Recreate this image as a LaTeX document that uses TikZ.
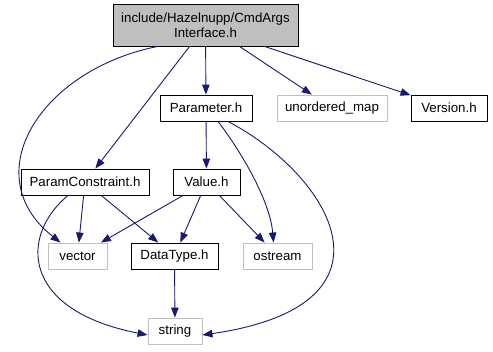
\documentclass[tikz,border=0pt]{standalone}
\usepackage{fontspec}
\setmainfont{Liberation Sans}
\usetikzlibrary{arrows.meta}

\definecolor{edgeblue}{HTML}{191970}
\definecolor{sysgray}{HTML}{BFBFBF}

\begin{document}
\begin{tikzpicture}[x=1pt,y=-1pt,
    hdr/.style={draw=black,line width=0.9pt,minimum height=26pt,inner sep=0pt,font=\fontsize{13.3}{15}\selectfont},
    syshdr/.style={hdr,draw=sysgray},
    dep/.style={draw=edgeblue,line width=0.9pt,-{Triangle[length=10pt,width=7.5pt]}}]
    \useasboundingbox (0,0) rectangle (493,351);

    % headers
    \node[hdr,fill=sysgray,minimum width=185pt,minimum height=42pt,align=center] (cmdargs) at (205.5,25) {include/Hazelnupp/CmdArgs\\Interface.h};
    \node[hdr,minimum width=92pt] (param) at (206,108) {Parameter.h};
    \node[syshdr,minimum width=110pt] (umap) at (332,108) {unordered\_map};
    \node[hdr,minimum width=76pt] (version) at (449,108) {Version.h};
    \node[hdr,minimum width=128pt] (pcons) at (85,182) {ParamConstraint.h};
    \node[hdr,minimum width=67pt] (value) at (206.5,182) {Value.h};
    \node[syshdr,minimum width=59pt] (vector) at (77.5,256) {vector};
    \node[hdr,minimum width=87pt] (dtype) at (174.5,256) {DataType.h};
    \node[syshdr,minimum width=69pt] (ostream) at (277.5,256) {ostream};
    \node[syshdr,minimum width=54pt] (string) at (175,331) {string};

    % includes of the interface header
    \draw[dep] ([xshift=45pt]cmdargs.south west) .. controls (40,70) and (-25,175) .. (vector);
    \draw[dep] ([xshift=77pt]cmdargs.south west) -- (pcons);
    \draw[dep] (cmdargs) -- (param);
    \draw[dep] ([xshift=127pt]cmdargs.south west) -- (umap);
    \draw[dep] ([xshift=152pt]cmdargs.south west) -- (version);

    % Parameter.h
    \draw[dep] (param) -- (value);
    \draw[dep] ([xshift=12pt]param.south) .. controls (240,150) and (270,200) .. ([xshift=-4pt]ostream.north);
    \draw[dep] ([xshift=22pt]param.south) .. controls (330,175) and (410,305) .. ([yshift=-4pt]string.east);

    % ParamConstraint.h
    \draw[dep] (pcons) -- (vector);
    \draw[dep] (pcons) -- (dtype);
    \draw[dep] ([xshift=-17pt]pcons.south) .. controls (20,235) and (20,310) .. ([yshift=-4pt]string.west);

    % Value.h and DataType.h
    \draw[dep] (value) -- (vector);
    \draw[dep] (value) -- (dtype);
    \draw[dep] (value) -- (ostream);
    \draw[dep] (dtype) -- (string);
\end{tikzpicture}
\end{document}
